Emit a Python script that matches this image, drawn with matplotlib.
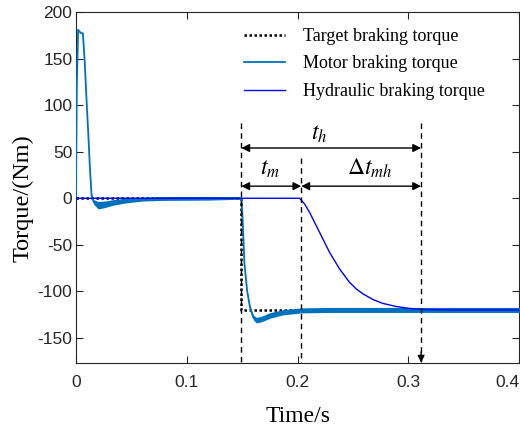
import matplotlib
matplotlib.use("Agg")
import matplotlib.pyplot as plt
import numpy as np

# ---------------- data ----------------
target_t = [0.0, 0.1492, 0.1492, 0.4]
target_v = [0.0, 0.0, -120.0, -120.0]

motor_t = [0.0, 0.0008, 0.0020, 0.0040, 0.0063, 0.0080, 0.0096, 0.0112, 0.0126,
           0.0141, 0.0160, 0.0201, 0.0260, 0.0335, 0.0450, 0.0600, 0.0800, 0.1200,
           0.1492, 0.1503, 0.1520, 0.1545, 0.1570, 0.1600, 0.1628, 0.1680, 0.1748,
           0.1868, 0.2033, 0.2300, 0.2700, 0.3200, 0.4000]
motor_v = [0.0, 120.0, 181.0, 178.0, 177.0, 145.0, 105.0, 68.0, 33.0,
           3.0, -4.0, -7.5, -6.5, -4.5, -2.5, -1.0, -0.3, 0.0,
           0.0, -20.0, -70.0, -100.0, -117.0, -128.0, -131.0, -129.5, -126.0,
           -122.5, -120.5, -120.0, -120.0, -120.0, -120.0]
motor_noise = [0.0, 0.0, 0.5, 0.5, 0.5, 0.5, 0.5, 0.5, 0.5,
               1.5, 2.5, 4.0, 3.5, 3.0, 2.5, 2.0, 2.0, 2.0,
               1.0, 0.5, 0.5, 0.5, 1.5, 2.5, 3.0, 3.0, 3.0,
               2.8, 2.7, 2.7, 2.7, 2.7, 2.7]

hyd_t = [0.0, 0.2018, 0.2063, 0.2108, 0.2153, 0.2198, 0.2243, 0.2288, 0.2333,
         0.2378, 0.2423, 0.2468, 0.2528, 0.2589, 0.2679, 0.2769, 0.2889, 0.3009,
         0.3126, 0.3400, 0.4000]
hyd_v = [0.0, 0.0, -6.2, -15.2, -25.9, -36.6, -47.4, -58.1, -67.0,
         -75.9, -83.1, -90.3, -97.3, -102.7, -108.8, -113.0, -116.3, -118.4,
         -119.5, -120.0, -120.0]

marker_times = [0.1492, 0.2033, 0.3114]   # dashed guide lines
marker_tops = [80.5, 43.0, 80.5]
arrow_y_th = 54.0
arrow_y_tm = 13.0

x_ticks = [0, 0.1, 0.2, 0.3, 0.4]
x_tick_labels = ["0", "0.1", "0.2", "0.3", "0.4"]
y_ticks = [-150, -100, -50, 0, 50, 100, 150, 200]

# ---------------- figure ----------------
plt.rcParams["mathtext.fontset"] = "stix"
plt.rcParams["axes.unicode_minus"] = False
serif = ["Liberation Serif", "DejaVu Serif"]
sans = ["Liberation Sans", "DejaVu Sans"]
axc = "#262626"

fig = plt.figure(figsize=(5.20, 4.33), dpi=100)
ax = fig.add_axes([0.146, 0.1617, 0.8527, 0.8103])

mt = np.array(motor_t)
mv = np.array(motor_v)
mn = np.array(motor_noise)

ax.plot(target_t, target_v, color="black", linestyle=(0, (1, 1)), lw=1.8,
        label="Target braking torque", zorder=2)
ax.fill_between(mt, mv - mn, mv + mn, color="#0072BD", lw=0, zorder=3)
ax.plot(mt, mv, color="#0072BD", lw=1.3, label="Motor braking torque", zorder=3)
ax.plot(hyd_t, hyd_v, color="#0000FF", lw=1.0, label="Hydraulic braking torque", zorder=4)

ylo, yhi = -177, 200
ax.set_xlim(0, 0.4)
ax.set_ylim(ylo, yhi)

# dashed guide lines
for t, top in zip(marker_times, marker_tops):
    ax.plot([t, t], [top, ylo], color="black", lw=1.0, linestyle=(0, (4, 3)), zorder=5)
# down arrow head on the last guide line
ax.annotate("", xy=(marker_times[2], ylo + 0.5), xytext=(marker_times[2], ylo + 12),
            arrowprops=dict(arrowstyle="-|>", color="black", lw=1.0,
                            mutation_scale=10, shrinkA=0, shrinkB=0), zorder=6)

arrow_kw = dict(arrowstyle="<|-|>", color="black", lw=1.0, mutation_scale=12,
                shrinkA=0, shrinkB=0)
ax.annotate("", xy=(marker_times[0], arrow_y_th), xytext=(marker_times[2], arrow_y_th),
            arrowprops=arrow_kw)
ax.annotate("", xy=(marker_times[0], arrow_y_tm), xytext=(marker_times[1], arrow_y_tm),
            arrowprops=arrow_kw)
ax.annotate("", xy=(marker_times[1], arrow_y_tm), xytext=(marker_times[2], arrow_y_tm),
            arrowprops=arrow_kw)

ax.text(0.2198, 70, r"$t_h$", fontsize=17, ha="center", va="center")
ax.text(0.1748, 32, r"$t_m$", fontsize=17, ha="center", va="center")
ax.text(0.2649, 32, r"$\Delta t_{mh}$", fontsize=17, ha="center", va="center")

# axes styling
ax.set_xticks(x_ticks)
ax.set_xticklabels(x_tick_labels)
ax.set_yticks(y_ticks)
ax.tick_params(direction="in", length=5, width=0.8, top=True, right=True,
               color=axc, labelcolor=axc, labelsize=12.5)
ax.tick_params(axis="x", pad=9)
ax.tick_params(axis="y", pad=2.5)
for lab in ax.get_xticklabels() + ax.get_yticklabels():
    lab.set_family(sans)
xl = ax.get_xticklabels()
xl[-1].set_horizontalalignment("right")
for s in ax.spines.values():
    s.set_color(axc)
    s.set_linewidth(0.8)

ax.set_xlabel("Time/s", fontsize=17, family=serif, color="black", labelpad=11)
ax.set_ylabel("Torque/(Nm)", fontsize=17.5, family=serif, color="black")
ax.yaxis.set_label_coords(-0.095, 0.47)

leg = ax.legend(loc="upper left", bbox_to_anchor=(0.379, 0.955), frameon=False,
                prop={"family": serif, "size": 13}, handlelength=2.3,
                handletextpad=0.95, labelspacing=0.58, borderpad=0, borderaxespad=0)

fig.savefig("out.png", dpi=100)
